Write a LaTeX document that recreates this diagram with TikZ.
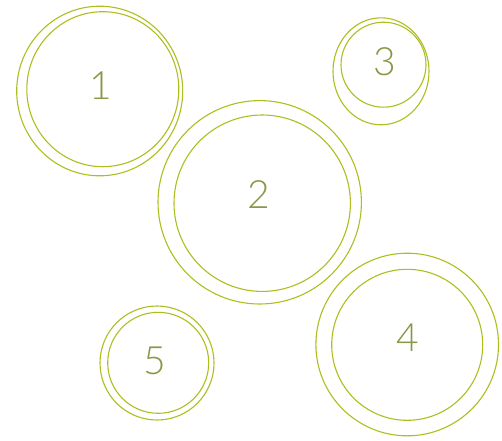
\documentclass[tikz,border=0pt]{standalone}
\usepackage{fontspec}
\newfontfamily\numfont{Lato Light}
\definecolor{ringgreen}{RGB}{174,190,30}
\definecolor{numolive}{RGB}{134,152,70}

\begin{document}
\begin{tikzpicture}[
  x=1pt,y=-1pt,
  ring/.style={draw=ringgreen,line width=1.1pt},
  numlabel/.style={text=numolive,inner sep=0pt,
    font=\numfont\fontsize{39}{39}\selectfont}
]
\useasboundingbox (0,0) rectangle (502,440);
% each group: outer ring, inner ring, then its number
\foreach \lab/\ox/\oy/\orx/\ory/\ix/\iy/\irx/\iry/\nx/\ny in {
    1/99.7/91/83/84.8/102.8/89.2/76/77.5/100.7/86,
    2/259.7/202.3/101.7/101.7/262.2/203.2/88.2/88.2/259/195,
    3/381/71.3/48/53.5/383.5/64.7/42.5/42.5/385/61.7,
    4/407.2/344.5/91.3/91.3/407.2/344.8/75.5/75.5/407.7/338,
    5/157/363/57/57/158.2/362.8/50.5/50.5/155/360.7} {
  \draw[ring] (\ox,\oy) ellipse [x radius=\orx pt,y radius=\ory pt];
  \draw[ring] (\ix,\iy) ellipse [x radius=\irx pt,y radius=\iry pt];
  \node[numlabel] (num\lab) at (\nx,\ny) {\lab};
}
\end{tikzpicture}
\end{document}
